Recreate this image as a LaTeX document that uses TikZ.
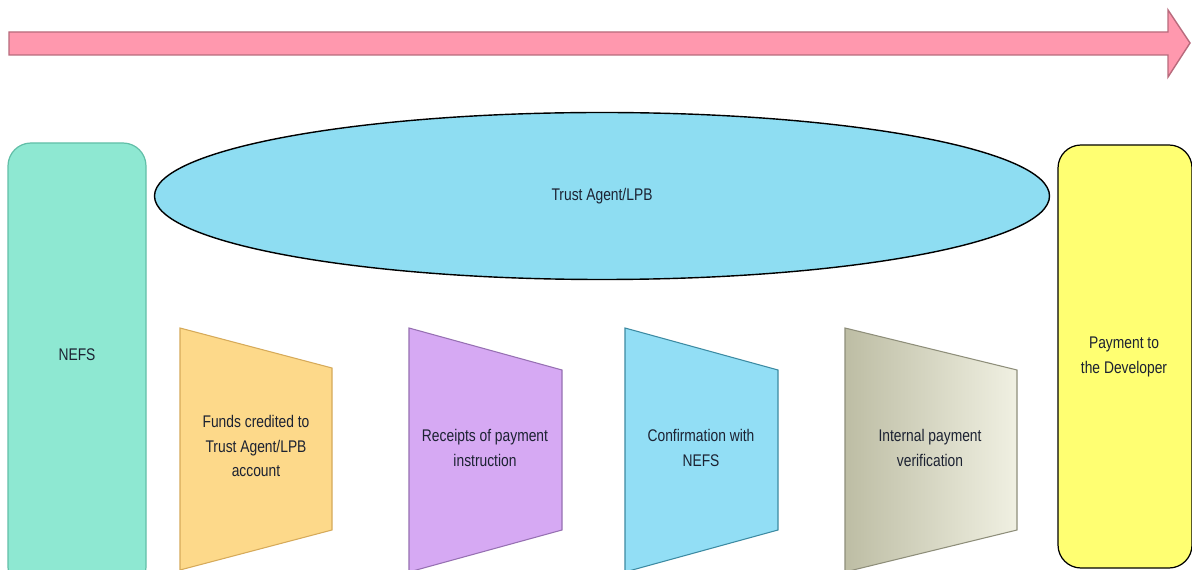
\documentclass[tikz,border=0pt]{standalone}
\usepackage{fontspec}
\setmainfont{Liberation Sans}
\newfontfamily\narrowsans[FakeStretch=0.82]{Liberation Sans}
\usetikzlibrary{shapes.geometric}
\definecolor{arrowfill}{HTML}{FF98AE}
\definecolor{arrowline}{HTML}{B86A7C}
\definecolor{mint}{HTML}{8EE8D2}
\definecolor{mintline}{HTML}{62BFA8}
\definecolor{skyfill}{HTML}{8EDDF2}
\definecolor{sandfill}{HTML}{FDD98A}
\definecolor{sandline}{HTML}{D6AA5A}
\definecolor{lilac}{HTML}{D6A9F3}
\definecolor{lilacline}{HTML}{9670B2}
\definecolor{cyanfill}{HTML}{92DEF5}
\definecolor{cyanline}{HTML}{3C8AA2}
\definecolor{olivedark}{HTML}{BDBDA4}
\definecolor{olivelight}{HTML}{F0F0E2}
\definecolor{oliveline}{HTML}{8E8E7A}
\definecolor{lemon}{HTML}{FFFF72}
\definecolor{inktext}{HTML}{1C2232}
\tikzset{
  label text/.style={font=\narrowsans\fontsize{9.6}{13.8}\selectfont, text=inktext, align=center},
  tallbox/.style={rounded corners=0.46cm, line width=0.7pt},
  stepshape/.style={line width=0.6pt}
}
\begin{document}
\begin{tikzpicture}[x=0.02cm, y=-0.02cm]
\useasboundingbox (0,0) rectangle (1192,570);
\clip (0,0) rectangle (1192,570);
\fill[white] (0,0) rectangle (1192,570);

% timeline arrow
\draw[fill=arrowfill, draw=arrowline, line width=0.8pt, line join=miter]
  (9,32) -- (1168,32) -- (1168,10) -- (1190,43) -- (1168,77) -- (1168,55) -- (9,55) -- cycle;

% left and right columns
\draw[tallbox, fill=mint, draw=mintline] (8,143) rectangle (146,590);
\node[label text] (nefs) at (77,355) {NEFS};

\draw[tallbox, fill=lemon, draw=black] (1058,145) rectangle (1192,568);
\node[label text] (dev) at (1124,357) {Payment to\\the Developer};

% trust agent
\node[ellipse, draw=black, line width=0.8pt, fill=skyfill, minimum width=895*0.02cm, minimum height=167*0.02cm, inner sep=0pt] (trust) at (602,196) {};
\node[label text] at (trust.center) {Trust Agent/LPB};

% process steps
\draw[stepshape, fill=sandfill, draw=sandline] (180,328) -- (332,368) -- (332,530) -- (180,570) -- cycle;
\node[label text] (funds) at (256,446) {Funds credited to\\Trust Agent/LPB\\account};

\draw[stepshape, fill=lilac, draw=lilacline] (409,328) -- (562,370) -- (562,530) -- (409,572) -- cycle;
\node[label text] (receipt) at (485,448) {Receipts of payment\\instruction};

\draw[stepshape, fill=cyanfill, draw=cyanline] (625,328) -- (778,370) -- (778,530) -- (625,572) -- cycle;
\node[label text] (confirm) at (701,448) {Confirmation with\\NEFS};

\draw[stepshape, left color=olivedark, right color=olivelight, draw=oliveline] (845,328) -- (1017,370) -- (1017,530) -- (845,572) -- cycle;
\node[label text] (verify) at (930,448) {Internal payment\\verification};
\end{tikzpicture}
\end{document}
